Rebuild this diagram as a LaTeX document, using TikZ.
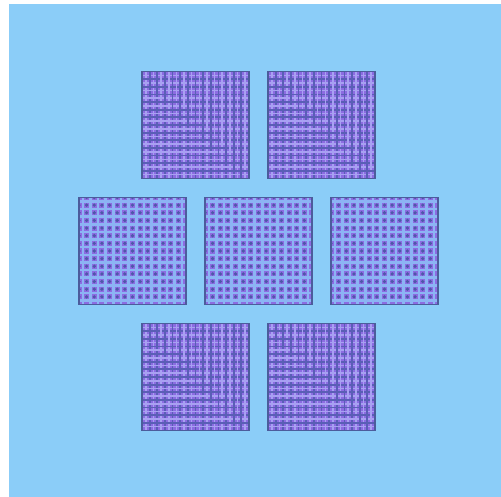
\documentclass[tikz,border=0pt]{standalone}
\definecolor{bg}{HTML}{8BCDF8}
\definecolor{sqfill}{HTML}{8C6CE2}
\definecolor{darkline}{HTML}{5A5EB6}
\definecolor{lightline}{HTML}{A8A0F2}
\definecolor{lightblue}{HTML}{8CB4F4}
\definecolor{dotcol}{HTML}{4E58A8}
\definecolor{edgecol}{HTML}{4C5C9C}
\tikzset{
  sqbase/.style={draw=edgecol, line width=1.5pt, fill=sqfill, minimum size=107pt, inner sep=0pt, outer sep=0pt},
  plaidsq/.style={sqbase, path picture={
    \foreach \i in {0,...,13} {
      \pgfmathsetmacro{\a}{(\i+0.5)*107/14}
      \pgfmathsetmacro{\b}{\i*107/14}
      \draw[lightline, line width=1.6pt] ([xshift=\a pt]path picture bounding box.north west) -- ([xshift=\a pt]path picture bounding box.south west);
      \draw[lightline, line width=1.6pt] ([yshift=-\a pt]path picture bounding box.north west) -- ([yshift=-\a pt]path picture bounding box.north east);
      \draw[darkline, line width=1.8pt] ([xshift=\b pt]path picture bounding box.north west) -- ([xshift=\b pt]path picture bounding box.south west);
      \draw[darkline, line width=1.8pt] ([yshift=-\b pt]path picture bounding box.north west) -- ([yshift=-\b pt]path picture bounding box.north east);
    }}},
  dotsq/.style={sqbase, path picture={
    \foreach \i in {0,...,13} {
      \pgfmathsetmacro{\a}{(\i+0.5)*107/14}
      \draw[lightblue, line width=2.6pt] ([xshift=\a pt]path picture bounding box.north west) -- ([xshift=\a pt]path picture bounding box.south west);
      \draw[lightblue, line width=2.6pt] ([yshift=-\a pt]path picture bounding box.north west) -- ([yshift=-\a pt]path picture bounding box.north east);
    }
    \foreach \i in {0,...,13} {
      \foreach \j in {0,...,13} {
        \pgfmathsetmacro{\a}{\i*107/14}
        \pgfmathsetmacro{\b}{\j*107/14}
        \fill[dotcol] ([xshift=\a pt, yshift=-\b pt]path picture bounding box.north west) circle (1.8pt);
      }
    }}}
}
\begin{document}
\begin{tikzpicture}[x=1pt,y=-1pt]
  \useasboundingbox (0,0) rectangle (501,497);
  \fill[bg] (9,4) rectangle (501,497);
  % top row
  \node[plaidsq] (t1) at (195.5,125) {};
  \node[plaidsq] (t2) at (321.5,125) {};
  % middle row
  \node[dotsq] (m1) at (132.5,251) {};
  \node[dotsq] (m2) at (258.5,251) {};
  \node[dotsq] (m3) at (384.5,251) {};
  % bottom row
  \node[plaidsq] (b1) at (195.5,377) {};
  \node[plaidsq] (b2) at (321.5,377) {};
\end{tikzpicture}
\end{document}
